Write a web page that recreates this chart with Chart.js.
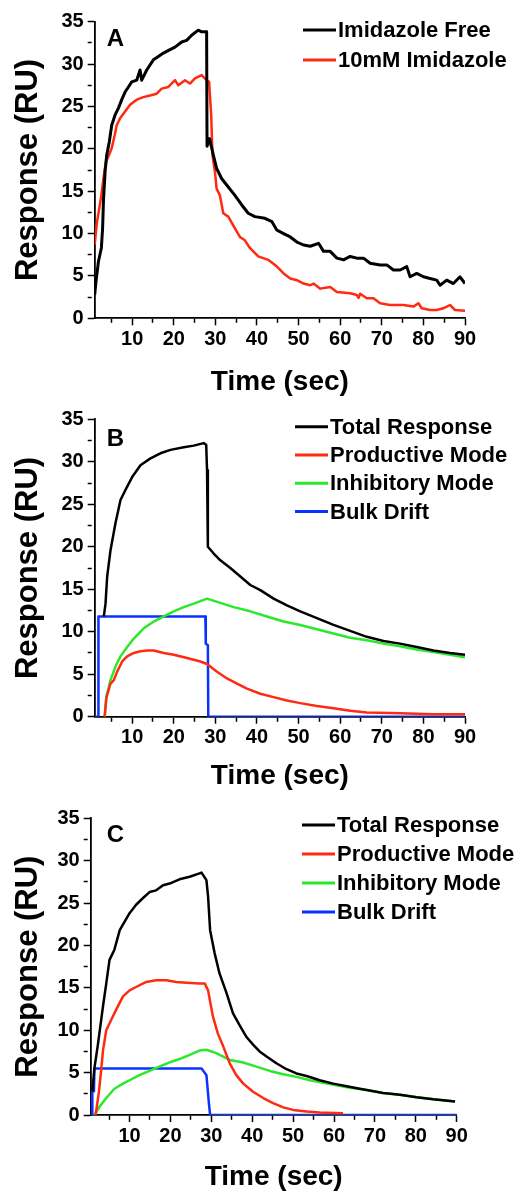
<!DOCTYPE html>
<html lang="en">
<head>
<meta charset="UTF-8" />
<title>Response vs Time</title>
<script src="https://cdn.jsdelivr.net/npm/chart.js"></script>
<style>
    html, body { margin: 0; padding: 0; background: #fff; }
    canvas { position: absolute; left: 0; }
</style>
</head>
<body>
<canvas id="chartA" width="515" height="397" style="top:0px"></canvas>
<canvas id="chartB" width="515" height="397" style="top:397px"></canvas>
<canvas id="chartC" width="515" height="398" style="top:794px"></canvas>

<script>
// tick positions (labels only on every second one)
const xTicks = [5, 10, 15, 20, 25, 30, 35, 40, 45, 50, 55, 60, 65, 70, 75, 80, 85, 90];
const yTicks = [0, 2.5, 5, 7.5, 10, 12.5, 15, 17.5, 20, 22.5, 25, 27.5, 30, 32.5, 35];

// Panel A
const aFreeTime = [1.0, 1.3, 1.9, 2.6, 2.9, 3.1, 3.5, 3.9, 4.5, 5.1, 5.9, 6.7, 7.5, 8.3, 9.1, 9.9, 11.1, 11.9, 12.3, 13.5, 15.1, 16.3, 17.5, 19.1, 20.3, 21.9, 23.1, 24.3, 25.9, 26.7, 27.9, 28.0, 28.6, 29.5, 30.3, 31.5, 33.1, 34.7, 36.3, 37.9, 39.5, 41.9, 43.6, 44.8, 46.4, 48.0, 49.6, 51.2, 52.8, 54.8, 56.0, 57.6, 59.2, 60.8, 62.4, 64.0, 65.6, 67.2, 69.6, 71.2, 72.8, 74.4, 76.0, 76.8, 78.4, 80.0, 81.6, 83.2, 84.0, 85.6, 87.2, 88.8, 90.0];
const aFree = [2.8, 4.3, 6.7, 8.3, 10.6, 13.8, 17.3, 19.3, 20.8, 22.8, 24.0, 24.8, 25.8, 26.7, 27.3, 27.9, 28.1, 29.3, 28.1, 29.3, 30.5, 30.9, 31.3, 31.7, 32.0, 32.6, 32.8, 33.4, 34.0, 33.8, 33.8, 20.3, 21.2, 19.3, 17.7, 16.5, 15.5, 14.5, 13.4, 12.4, 12.0, 11.8, 11.4, 10.4, 10.0, 9.6, 9.0, 8.65, 8.5, 8.85, 7.9, 7.9, 7.1, 6.9, 7.3, 7.1, 7.1, 6.5, 6.3, 6.3, 5.7, 5.7, 6.1, 4.9, 5.3, 4.9, 4.7, 4.5, 3.9, 4.5, 4.1, 4.9, 4.1];
const aImidTime = [1.0, 1.5, 2.1, 2.6, 3.1, 3.7, 4.3, 5.1, 5.8, 6.3, 7.1, 8.3, 9.5, 11.1, 12.7, 14.3, 15.9, 17.1, 18.7, 20.3, 21.1, 22.7, 23.9, 25.1, 26.7, 27.9, 28.5, 29.0, 29.3, 29.9, 30.3, 31.1, 31.9, 33.1, 34.7, 35.9, 37.1, 38.3, 40.3, 42.7, 44.8, 46.4, 48.0, 49.6, 51.2, 52.8, 53.6, 55.2, 57.6, 59.2, 62.4, 64.0, 64.4, 64.8, 66.4, 68.0, 69.6, 72.0, 75.2, 77.6, 78.8, 79.6, 81.6, 83.2, 84.8, 86.4, 87.6, 90.0];
const aImid = [8.7, 11.2, 13.0, 14.5, 16.5, 18.5, 19.1, 20.1, 21.6, 22.8, 23.6, 24.4, 25.2, 25.8, 26.1, 26.3, 26.5, 27.1, 27.3, 28.1, 27.5, 28.1, 27.7, 28.3, 28.7, 28.1, 27.9, 24.0, 19.3, 17.3, 15.3, 14.5, 12.4, 12.0, 10.6, 9.6, 9.2, 8.3, 7.3, 6.9, 6.1, 5.3, 4.7, 4.5, 4.1, 3.9, 4.1, 3.5, 3.7, 3.1, 2.95, 2.75, 2.4, 2.9, 2.36, 2.36, 1.77, 1.57, 1.57, 1.38, 1.77, 1.18, 0.98, 0.98, 1.18, 1.57, 0.98, 0.9];

// Panel B
const bTotalTime = [3.2, 3.6, 4.0, 4.8, 6.0, 7.2, 8.4, 10.0, 12.0, 14.4, 16.8, 19.2, 22.4, 24.8, 27.2, 27.8, 28.0, 28.2, 29.6, 31.2, 33.6, 36.0, 38.4, 40.8, 44.0, 47.2, 50.4, 54.4, 58.4, 62.4, 66.4, 70.4, 74.4, 78.4, 82.4, 86.4, 90.0];
const bTotal = [11.8, 13.3, 16.5, 19.6, 22.8, 25.5, 26.7, 28.2, 29.6, 30.4, 31.0, 31.4, 31.7, 31.9, 32.2, 32.0, 29.0, 20.0, 19.2, 18.4, 17.5, 16.5, 15.5, 14.9, 13.9, 13.1, 12.4, 11.6, 10.8, 10.1, 9.4, 8.9, 8.6, 8.2, 7.8, 7.5, 7.3];
const bProdTime = [3.4, 3.8, 4.8, 5.6, 6.4, 7.6, 8.8, 10.4, 12.0, 13.6, 15.2, 17.6, 20.0, 23.2, 26.4, 28.0, 30.4, 32.8, 35.2, 37.6, 40.8, 44.0, 47.2, 50.4, 54.4, 58.4, 62.4, 66.4, 74.4, 82.4, 90.0];
const bProd = [0, 2.2, 3.9, 4.3, 5.3, 6.5, 7.1, 7.5, 7.7, 7.8, 7.8, 7.5, 7.3, 6.9, 6.5, 6.2, 5.3, 4.5, 3.9, 3.3, 2.7, 2.3, 1.9, 1.6, 1.25, 1.0, 0.7, 0.5, 0.4, 0.3, 0.3];
const bInhTime = [3.4, 3.8, 4.8, 6.0, 7.2, 8.8, 10.4, 12.8, 15.2, 17.6, 20.0, 22.4, 24.8, 28.0, 31.2, 34.4, 38.4, 42.4, 46.4, 50.4, 54.4, 58.4, 62.4, 66.4, 70.4, 74.4, 78.4, 82.4, 86.4, 90.0];
const bInh = [0, 2.4, 4.3, 5.9, 7.1, 8.2, 9.2, 10.4, 11.2, 11.8, 12.4, 12.9, 13.3, 13.9, 13.4, 12.9, 12.4, 11.8, 11.2, 10.8, 10.3, 9.8, 9.3, 9.0, 8.6, 8.3, 7.9, 7.6, 7.3, 7.0];
const bBulkTime = [1.0, 1.8, 1.9, 27.6, 27.7, 28.2, 28.3, 90.0];
const bBulk = [0, 0, 11.8, 11.8, 8.6, 8.4, 0, 0];

// Panel C
const cTotalTime = [0.9, 1.4, 2.2, 3.5, 4.3, 5.1, 6.3, 7.6, 8.8, 10.0, 11.6, 13.3, 14.9, 16.5, 18.2, 19.8, 22.2, 24.7, 27.1, 27.6, 28.8, 29.2, 29.7, 30.8, 32.0, 33.7, 35.3, 36.9, 38.6, 40.2, 41.8, 43.5, 45.9, 48.4, 50.8, 53.3, 56.5, 59.8, 63.1, 66.3, 68.0, 72.0, 76.1, 80.2, 84.3, 89.6];
const cTotal = [2.8, 5.5, 8.1, 12.8, 15.5, 18.3, 19.5, 21.8, 22.8, 23.8, 24.8, 25.6, 26.3, 26.5, 27.1, 27.3, 27.8, 28.1, 28.5, 28.6, 27.7, 25.8, 21.8, 19.1, 16.7, 14.4, 12.0, 10.6, 9.2, 8.3, 7.5, 6.9, 6.1, 5.4, 4.9, 4.6, 4.1, 3.7, 3.4, 3.1, 2.95, 2.6, 2.4, 2.1, 1.85, 1.6];
const cProdTime = [1.7, 2.5, 3.0, 3.5, 4.3, 5.5, 6.7, 8.4, 10.0, 11.6, 14.1, 16.5, 19.0, 21.4, 23.9, 27.1, 28.4, 29.2, 30.4, 31.6, 32.9, 34.5, 36.1, 37.8, 40.2, 42.7, 45.1, 47.6, 50.0, 53.3, 56.5, 62.2];
const cProd = [0, 2.7, 5.0, 7.6, 10.0, 11.2, 12.4, 14.0, 14.7, 15.1, 15.7, 15.9, 15.9, 15.7, 15.6, 15.5, 15.5, 14.7, 11.6, 9.6, 8.1, 6.1, 4.7, 3.7, 2.75, 2.0, 1.4, 0.9, 0.6, 0.4, 0.3, 0.2];
const cInhTime = [1.4, 2.7, 4.3, 6.3, 8.4, 10.0, 12.4, 14.9, 17.3, 19.8, 22.2, 24.7, 27.1, 28.8, 31.2, 34.5, 37.8, 41.0, 44.3, 47.6, 50.8, 54.1, 57.4, 60.6, 63.9, 68.0, 72.0, 76.1, 80.2, 84.3, 89.6];
const cInh = [0, 1.0, 2.0, 3.1, 3.7, 4.1, 4.7, 5.2, 5.7, 6.2, 6.6, 7.1, 7.6, 7.7, 7.3, 6.5, 6.2, 5.7, 5.2, 4.8, 4.5, 4.1, 3.8, 3.5, 3.2, 2.95, 2.6, 2.4, 2.1, 1.85, 1.6];
const cBulkTime = [0.5, 0.85, 0.9, 1.3, 1.4, 27.6, 28.8, 29.4, 29.7, 90.0];
const cBulk = [0, 0, 2.8, 2.8, 5.5, 5.5, 4.7, 1.4, 0, 0];

const BLACK = '#000000';
const RED = '#ff2a12';
const GREEN = '#2be82b';
const BLUE = '#0a32ff';
const FONT = '"Liberation Sans", Arial, sans-serif';

function pts(times, values) {
    return times.map((t, i) => ({ x: t, y: values[i] }));
}

function series(label, color, times, values, width) {
    return {
        label: label,
        data: pts(times, values),
        borderColor: color,
        backgroundColor: color,
        borderWidth: width || 2.5,
        borderJoinStyle: 'round',
        pointRadius: 0,
        tension: 0,
        fill: false
    };
}

// panel letter + legend drawn inside the plot
const panelDecor = {
    id: 'panelDecor',
    afterDatasetsDraw(chart, args, o) {
        const { ctx, chartArea } = chart;
        ctx.save();
        ctx.fillStyle = '#000';
        ctx.textAlign = 'left';
        ctx.textBaseline = 'middle';
        ctx.font = 'bold 24px ' + FONT;
        ctx.fillText(o.letter, chartArea.left + o.letterDx, chartArea.top + o.letterDy);
        ctx.font = 'bold 22px ' + FONT;
        chart.data.datasets.forEach((ds, i) => {
            const y = chartArea.top + o.legendDy + i * o.legendGap;
            ctx.strokeStyle = ds.borderColor;
            ctx.lineWidth = 3;
            ctx.beginPath();
            ctx.moveTo(o.lineX, y);
            ctx.lineTo(o.lineX + 33, y);
            ctx.stroke();
            ctx.fillText(ds.label, o.lineX + 35, y + 1);
        });
        ctx.restore();
    }
};

// long marks on labelled ticks, short marks in between
function gridFor(step) {
    return {
        drawOnChartArea: false,
        drawTicks: true,
        tickLength: 7,
        tickColor: '#000',
        tickWidth: 1.5,
        tickBorderDash: c => (c.tick && c.tick.value % step !== 0 ? [4, 40] : [])
    };
}

function makeChart(id, datasets, p) {
    const ctx = document.getElementById(id).getContext('2d');
    return new Chart(ctx, {
        type: 'line',
        data: { datasets: datasets },
        options: {
            responsive: false,
            animation: false,
            layout: { padding: { top: p.top, right: p.right, bottom: 0, left: 0 } },
            plugins: {
                legend: { display: false },
                tooltip: { enabled: false },
                panelDecor: p.decor
            },
            scales: {
                x: {
                    type: 'linear',
                    min: p.xMin,
                    max: 90,
                    afterBuildTicks: axis => { axis.ticks = xTicks.map(v => ({ value: v })); },
                    afterFit: axis => { axis.height = p.xHeight; },
                    grid: gridFor(10),
                    border: { display: true, color: '#000', width: 1.8 },
                    ticks: {
                        color: '#000',
                        padding: 2,
                        maxRotation: 0,
                        autoSkip: false,
                        font: { family: FONT, size: 20, weight: 'bold' },
                        callback: v => (v % 10 === 0 ? String(v) : '')
                    },
                    title: {
                        display: true,
                        text: 'Time (sec)',
                        color: '#000',
                        font: { family: FONT, size: 28, weight: 'bold', lineHeight: 1 },
                        padding: { top: 0, bottom: p.xTitlePad }
                    }
                },
                y: {
                    type: 'linear',
                    min: 0,
                    max: 35,
                    afterBuildTicks: axis => { axis.ticks = yTicks.map(v => ({ value: v })); },
                    afterFit: axis => { axis.width = p.yWidth; },
                    grid: gridFor(5),
                    border: { display: true, color: '#000', width: 1.8 },
                    ticks: {
                        color: '#000',
                        padding: 4,
                        autoSkip: false,
                        font: { family: FONT, size: 20, weight: 'bold' },
                        callback: v => (v % 5 === 0 ? String(v) : '')
                    },
                    title: {
                        display: true,
                        text: 'Response (RU)',
                        color: '#000',
                        font: { family: FONT, size: 31, weight: 'bold', lineHeight: 1 },
                        padding: { top: 12.5, bottom: 0 }
                    }
                }
            }
        },
        plugins: [panelDecor]
    });
}

makeChart('chartA', [
    series('Imidazole Free', BLACK, aFreeTime, aFree, 3),
    series('10mM Imidazole', RED, aImidTime, aImid, 2.5)
], {
    top: 21.7, right: 50, xMin: 1, xHeight: 78.7, yWidth: 94.7, xTitlePad: 0.5,
    decor: { letter: 'A', letterDx: 12, letterDy: 18, lineX: 303, legendDy: 8.3, legendGap: 30 }
});

makeChart('chartB', [
    series('Total Response', BLACK, bTotalTime, bTotal),
    series('Productive Mode', RED, bProdTime, bProd),
    series('Inhibitory Mode', GREEN, bInhTime, bInh),
    series('Bulk Drift', BLUE, bBulkTime, bBulk)
], {
    top: 22.3, right: 50, xMin: 1, xHeight: 77.3, yWidth: 94.7, xTitlePad: 3.8,
    decor: { letter: 'B', letterDx: 12, letterDy: 20, lineX: 295, legendDy: 7.4, legendGap: 28.3 }
});

makeChart('chartC', [
    series('Total Response', BLACK, cTotalTime, cTotal),
    series('Productive Mode', RED, cProdTime, cProd),
    series('Inhibitory Mode', GREEN, cInhTime, cInh),
    series('Bulk Drift', BLUE, cBulkTime, cBulk)
], {
    top: 24.3, right: 58.3, xMin: 0.5, xHeight: 77, yWidth: 90.7, xTitlePad: 0.5,
    decor: { letter: 'C', letterDx: 16, letterDy: 17, lineX: 302, legendDy: 6.7, legendGap: 29 }
});
</script>
</body>
</html>
